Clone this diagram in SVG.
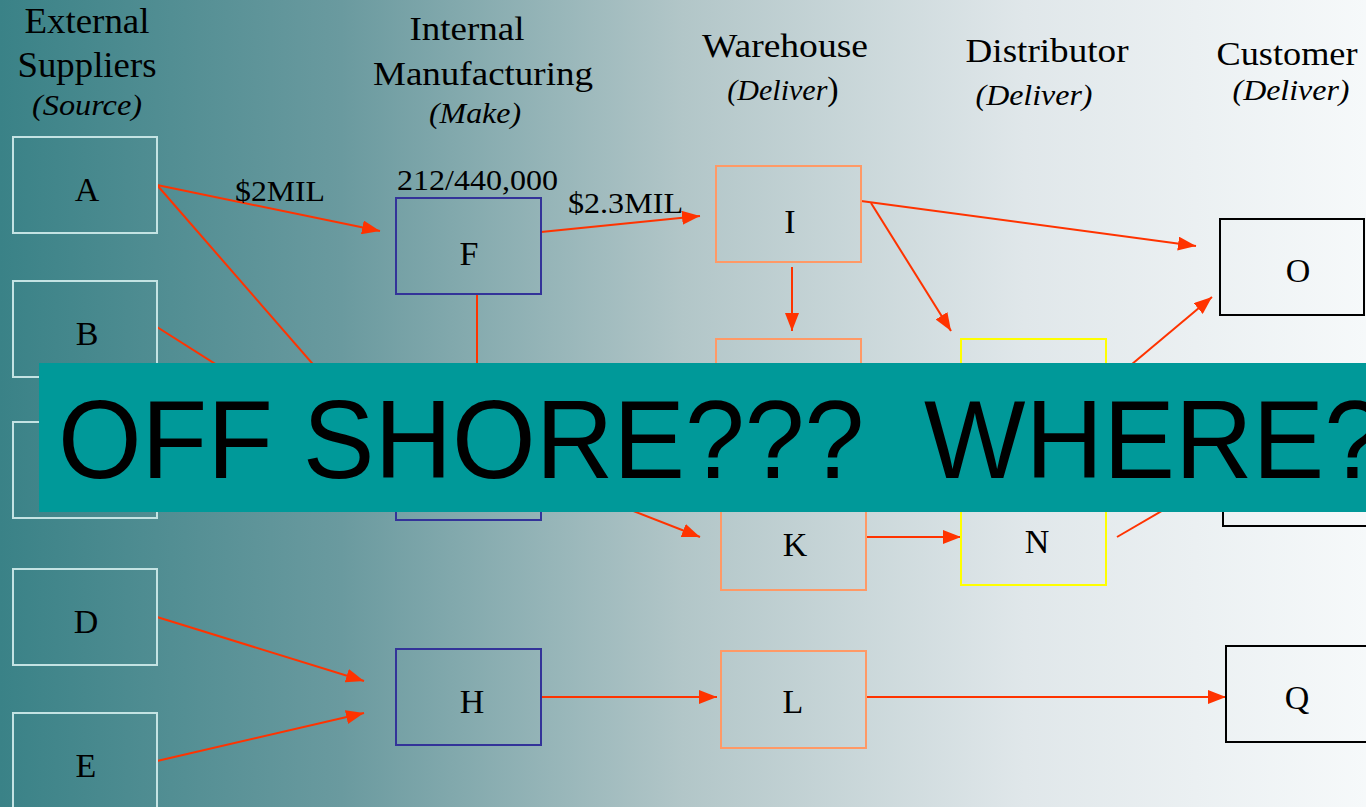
<svg xmlns="http://www.w3.org/2000/svg" width="1366" height="807" viewBox="0 0 1366 807">
<defs>
<linearGradient id="bg" x1="0" y1="0" x2="1" y2="0">
<stop offset="0" stop-color="#3a8287"/>
<stop offset="0.25" stop-color="#6a9a9f"/>
<stop offset="0.5" stop-color="#b2c6c8"/>
<stop offset="0.75" stop-color="#e0e7ea"/>
<stop offset="1" stop-color="#f6f9fa"/>
</linearGradient>
<marker id="ah" markerUnits="userSpaceOnUse" markerWidth="18" markerHeight="14" refX="18" refY="7" orient="auto">
<path d="M0,0 L18,7 L0,14 z" fill="#ff3300"/>
</marker>
<style>
.hd{font-family:"Liberation Serif","Times New Roman",serif;fill:#000;text-anchor:middle}
.it{font-style:italic}
.lb{font-family:"Liberation Serif","Times New Roman",serif;font-size:34px;fill:#000;text-anchor:middle}
.el{font-family:"Liberation Serif","Times New Roman",serif;font-size:30px;fill:#000}
.sup{fill:none;stroke:#c4e3e3;stroke-width:2}
.mfg{fill:none;stroke:#333399;stroke-width:2}
.wh{fill:none;stroke:#ff9966;stroke-width:2}
.dis{fill:none;stroke:#ffff00;stroke-width:2}
.cus{fill:none;stroke:#000;stroke-width:2}
.cn line{stroke:#ff3300;stroke-width:2;marker-end:url(#ah)}
</style>
</defs>
<rect x="0" y="0" width="1366" height="807" fill="url(#bg)"/>

<g id="headers">
<text class="hd" x="87" y="33" font-size="36" textLength="125" lengthAdjust="spacingAndGlyphs">External</text>
<text class="hd" x="87" y="77" font-size="36" textLength="139" lengthAdjust="spacingAndGlyphs">Suppliers</text>
<text class="hd it" x="87" y="115" font-size="30" textLength="110" lengthAdjust="spacingAndGlyphs">(Source)</text>
<text class="hd" x="467" y="40" font-size="34" textLength="115" lengthAdjust="spacingAndGlyphs">Internal</text>
<text class="hd" x="483" y="85" font-size="34" textLength="220" lengthAdjust="spacingAndGlyphs">Manufacturing</text>
<text class="hd it" x="475" y="123" font-size="30" textLength="92" lengthAdjust="spacingAndGlyphs">(Make)</text>
<text class="hd" x="785" y="57" font-size="34" textLength="166" lengthAdjust="spacingAndGlyphs">Warehouse</text>
<text class="hd" x="783" y="100" font-size="30"><tspan class="it">(Deliver</tspan><tspan font-size="34">)</tspan></text>
<text class="hd" x="1047" y="62" font-size="34" textLength="163" lengthAdjust="spacingAndGlyphs">Distributor</text>
<text class="hd it" x="1034" y="105" font-size="30" textLength="117" lengthAdjust="spacingAndGlyphs">(Deliver)</text>
<text class="hd" x="1287" y="65" font-size="34" textLength="141" lengthAdjust="spacingAndGlyphs">Customer</text>
<text class="hd it" x="1291" y="100" font-size="30" textLength="117" lengthAdjust="spacingAndGlyphs">(Deliver)</text>
</g>

<g id="connectors" class="cn">
<line x1="157" y1="185" x2="380" y2="231"/>
<line x1="157" y1="185" x2="392" y2="455"/>
<line x1="157" y1="327" x2="392" y2="476"/>
<line x1="477" y1="294" x2="477" y2="422"/>
<line x1="541" y1="232" x2="700" y2="216"/>
<line x1="861" y1="201" x2="1196" y2="246"/>
<line x1="871" y1="203" x2="951" y2="331"/>
<line x1="792" y1="267" x2="792" y2="331"/>
<line x1="1113" y1="380" x2="1212" y2="297"/>
<line x1="1117" y1="537" x2="1215" y2="480"/>
<line x1="541" y1="475" x2="700" y2="537"/>
<line x1="866" y1="537" x2="961" y2="537"/>
<line x1="157" y1="617" x2="364" y2="681"/>
<line x1="157" y1="761" x2="364" y2="713"/>
<line x1="541" y1="697" x2="717" y2="697"/>
<line x1="866" y1="697" x2="1226" y2="697"/>
</g>

<g id="node-A"><rect class="sup" x="13" y="137" width="144" height="96"/><text class="lb" x="87" y="201">A</text></g>
<g id="node-B"><rect class="sup" x="13" y="281" width="144" height="96"/><text class="lb" x="87" y="345">B</text></g>
<g id="node-C"><rect class="sup" x="13" y="422" width="144" height="96"/></g>
<g id="node-D"><rect class="sup" x="13" y="569" width="144" height="96"/><text class="lb" x="86" y="633">D</text></g>
<g id="node-E"><rect class="sup" x="13" y="713" width="144" height="96"/><text class="lb" x="86" y="777">E</text></g>

<g id="node-F"><rect class="mfg" x="396" y="198" width="145" height="96"/><text class="lb" x="469" y="265">F</text></g>
<g id="node-G"><rect class="mfg" x="396" y="424" width="145" height="96"/></g>
<g id="node-H"><rect class="mfg" x="396" y="649" width="145" height="96"/><text class="lb" x="472" y="713">H</text></g>

<g id="node-I"><rect class="wh" x="716" y="166" width="145" height="96"/><text class="lb" x="790" y="233">I</text></g>
<g id="node-J"><rect class="wh" x="716" y="339" width="145" height="96"/></g>
<g id="node-K"><rect class="wh" x="721" y="494" width="145" height="96"/><text class="lb" x="795" y="556">K</text></g>
<g id="node-L"><rect class="wh" x="721" y="651" width="145" height="97"/><text class="lb" x="793" y="713">L</text></g>

<g id="node-M"><rect class="dis" x="961" y="339" width="145" height="97"/></g>
<g id="node-N"><rect class="dis" x="961" y="488" width="145" height="97"/><text class="lb" x="1037" y="553">N</text></g>

<g id="node-O"><rect class="cus" x="1220" y="219" width="144" height="96"/><text class="lb" x="1298" y="282">O</text></g>
<g id="node-P"><rect class="cus" x="1223" y="430" width="144" height="96"/></g>
<g id="node-Q"><rect class="cus" x="1226" y="646" width="142" height="96"/><text class="lb" x="1297" y="709">Q</text></g>

<g id="edge-labels">
<text class="el" x="235" y="201" textLength="90" lengthAdjust="spacingAndGlyphs">$2MIL</text>
<text class="el" x="397" y="190" textLength="161" lengthAdjust="spacingAndGlyphs">212/440,000</text>
<text class="el" x="568" y="213" textLength="115" lengthAdjust="spacingAndGlyphs">$2.3MIL</text>
</g>

<g id="banner">
<rect x="39" y="363" width="1330" height="149" fill="#009999"/>
<text x="58" y="478" xml:space="preserve" font-family="'Liberation Sans',Arial,sans-serif" font-size="111" fill="#000" textLength="1326" lengthAdjust="spacingAndGlyphs">OFF SHORE???  WHERE?</text>
</g>
</svg>
